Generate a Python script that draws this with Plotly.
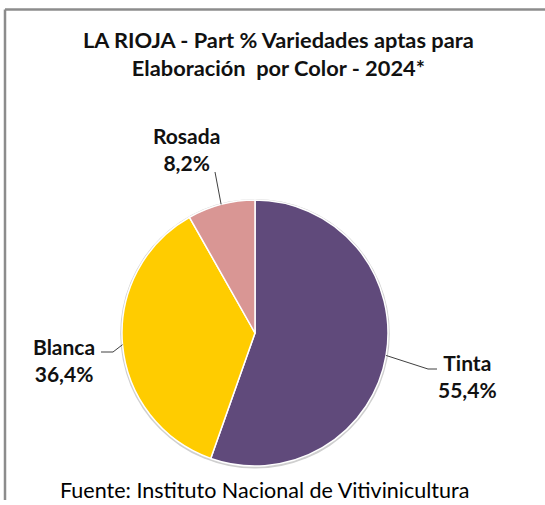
import math
import plotly.graph_objects as go

# ---- data ----
categories = ["Tinta", "Blanca", "Rosada"]
values = [55.4, 36.4, 8.2]
pct_labels = ["55,4%", "36,4%", "8,2%"]
colors = ["#604A7B", "#FFCC00", "#D99694"]

W, H = 545, 505
FONT = "Lato"

# pie geometry (pixels)
cx, cy, r = 255, 333, 133


def px(x):
    return x / W


def py(y):
    return 1 - y / H


fig = go.Figure()
# soft shadow ring behind pie
rs = r + 1.8
fig.add_trace(go.Pie(
    values=[1], labels=[""], sort=False, textinfo="none", hoverinfo="skip",
    marker=dict(colors=["#cfcfcf"], line=dict(width=0)), showlegend=False,
    domain=dict(x=[px(cx - rs), px(cx + rs)], y=[py(cy + rs + 0.8), py(cy - rs + 0.8)]),
))
fig.add_trace(go.Pie(
    labels=categories,
    values=values,
    sort=False,
    direction="clockwise",
    rotation=0,
    marker=dict(colors=colors, line=dict(color="white", width=1.5)),
    textinfo="none",
    hoverinfo="label+percent",
    showlegend=False,
    domain=dict(x=[px(cx - r), px(cx + r)], y=[py(cy + r), py(cy - r)]),
))

# mid-angle of each slice (clockwise from 12 o'clock), derived from data
total = sum(values)
mids = []
acc = 0
for v in values:
    mids.append((acc + v / 2) / total * 2 * math.pi)
    acc += v


def edge(i):
    a = mids[i]
    return cx + r * math.sin(a), cy - r * math.cos(a)


shapes = []
# border (top + left)
shapes.append(dict(type="line", xref="paper", yref="paper", x0=px(5), x1=1, y0=py(9.5), y1=py(9.5),
                   line=dict(color="#8c8c8c", width=2.5)))
shapes.append(dict(type="line", xref="paper", yref="paper", x0=px(5), x1=px(5), y0=py(9.5), y1=py(500),
                   line=dict(color="#8c8c8c", width=2.5)))

# leader lines
ex, ey = edge(0)  # Tinta
shapes.append(dict(type="path", xref="paper", yref="paper",
                   path=f"M {px(ex)},{py(ey)} L {px(428)},{py(369)} L {px(437)},{py(369)}",
                   line=dict(color="#404040", width=1)))
ex, ey = edge(1)  # Blanca
shapes.append(dict(type="path", xref="paper", yref="paper",
                   path=f"M {px(ex)},{py(ey)} L {px(113)},{py(352)} L {px(101)},{py(352)}",
                   line=dict(color="#404040", width=1)))
ex, ey = edge(2)  # Rosada
shapes.append(dict(type="path", xref="paper", yref="paper",
                   path=f"M {px(ex)},{py(ey)} L {px(215)},{py(172)}",
                   line=dict(color="#404040", width=1)))

label_pos = {0: (467, 376), 1: (64, 360), 2: (186, 149)}
annotations = []
for i, cat in enumerate(categories):
    x, y = label_pos[i]
    annotations.append(dict(
        x=px(x), y=py(y), xref="paper", yref="paper", showarrow=False,
        text=f"<b>{cat}<br>{pct_labels[i]}</b>", align="center",
        font=dict(family=FONT, size=21, color="#111111"),
        xanchor="center", yanchor="middle",
    ))

annotations.append(dict(
    x=px(278), y=py(54), xref="paper", yref="paper", showarrow=False,
    text="<b>LA RIOJA - Part % Variedades aptas para<br>Elaboración  por Color - 2024*</b>",
    align="center", font=dict(family=FONT, size=21.8, color="#111111"),
    xanchor="center", yanchor="middle",
))
annotations.append(dict(
    x=px(264), y=py(490), xref="paper", yref="paper", showarrow=False,
    text="Fuente: Instituto Nacional de Vitivinicultura",
    font=dict(family=FONT, size=21.5, color="#000000"),
    xanchor="center", yanchor="middle",
))

fig.update_layout(
    width=W, height=H,
    margin=dict(l=0, r=0, t=0, b=0),
    paper_bgcolor="white", plot_bgcolor="white",
    shapes=shapes, annotations=annotations,
)

fig.write_html(
    "out.html",
    config={"displayModeBar": False},
    post_script="document.body.style.margin='0';document.body.style.padding='0';",
)
